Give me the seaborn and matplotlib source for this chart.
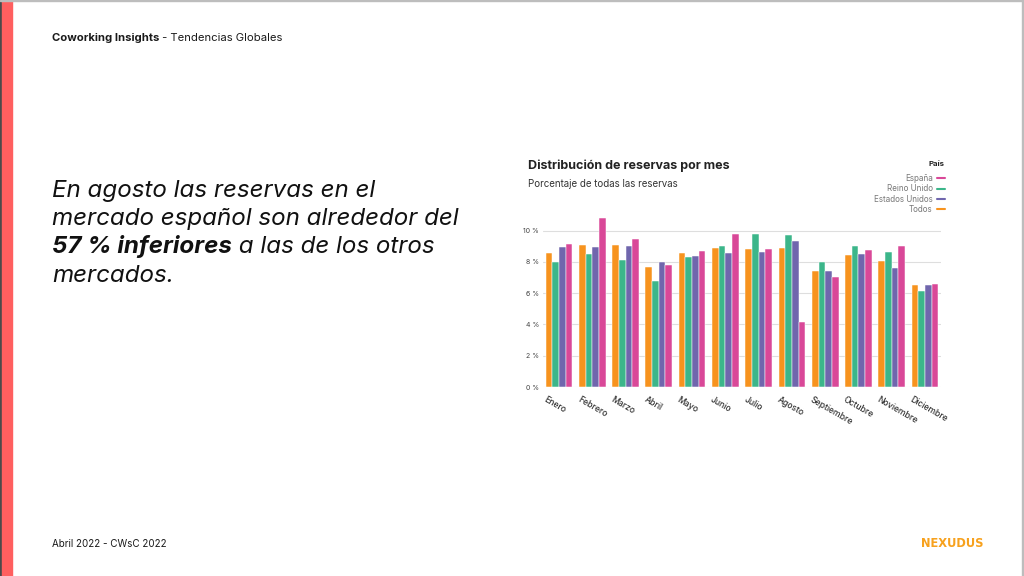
import matplotlib
matplotlib.use("Agg")
import matplotlib.pyplot as plt
import matplotlib.transforms as mtransforms
from matplotlib.lines import Line2D
from matplotlib.patches import Rectangle
import seaborn as sns
import pandas as pd

# ---------------- data ----------------
meses = ["Enero", "Febrero", "Marzo", "Abril", "Mayo", "Junio", "Julio",
         "Agosto", "Septiembre", "Octubre", "Noviembre", "Diciembre"]
series_names = ["Todos", "Reino Unido", "Estados Unidos", "España"]
todos = [8.55, 9.10, 9.10, 7.70, 8.55, 8.91, 8.81, 8.89, 7.43, 8.45, 8.06, 6.51]
reino_unido = [8.02, 8.53, 8.10, 6.79, 8.30, 9.02, 9.81, 9.74, 8.00, 9.04, 8.66, 6.11]
estados_unidos = [8.96, 8.98, 9.04, 8.00, 8.40, 8.57, 8.62, 9.34, 7.43, 8.51, 7.62, 6.55]
espana = [9.13, 10.83, 9.49, 7.81, 8.72, 9.79, 8.81, 4.17, 7.02, 8.74, 9.02, 6.60]
y_ticks = [0, 2, 4, 6, 8, 10]
legend_order = ["España", "Reino Unido", "Estados Unidos", "Todos"]

colors = {"Todos": "#f7931e", "Reino Unido": "#3cb68a",
          "Estados Unidos": "#7066ad", "España": "#d94898"}

values = {"Todos": todos, "Reino Unido": reino_unido,
          "Estados Unidos": estados_unidos, "España": espana}
rows = []
for s in series_names:
    for m, v in zip(meses, values[s]):
        rows.append({"mes": m, "serie": s, "valor": v})
df = pd.DataFrame(rows)

# ---------------- figure ----------------
sns.set_theme(style="white")
plt.rcParams["font.family"] = ["Inter", "DejaVu Sans"]

fig = plt.figure(figsize=(10.24, 5.76), dpi=100)
W, H = 1024, 576

def fx(px):
    return px / W

def fy(py):
    return 1 - py / H

# slide frame
fig.patches.append(Rectangle((0, 0), fx(2), 1, transform=fig.transFigure,
                             color="#4a4a4a", zorder=5))
fig.patches.append(Rectangle((fx(2), 0), fx(10), 1, transform=fig.transFigure,
                             color="#ff5f5f", zorder=5))
fig.patches.append(Rectangle((0, fy(1)), 1, 1 / H, transform=fig.transFigure,
                             color="#bdbdbd", zorder=5))
fig.patches.append(Rectangle((fx(1022), 0), fx(2), 1, transform=fig.transFigure,
                             color="#bdbdbd", zorder=5))

# chart axes
ax = fig.add_axes([fx(543), fy(387), fx(941 - 543), fy(215) - fy(387)])
sns.barplot(data=df, x="mes", y="valor", hue="serie", hue_order=series_names,
            palette=colors, order=meses, width=0.8, ax=ax, saturation=1,
            edgecolor="white", linewidth=0.35, legend=False)
ax.set_xlim(-0.48, 11.48)
ax.set_ylim(0, 11)
ax.set_yticks(y_ticks)
ax.set_yticklabels([f"{v} %" for v in y_ticks], fontsize=5, color="#444444")
ax.yaxis.grid(True, color="#dedede", linewidth=0.8)
ax.set_axisbelow(True)
for sp in ax.spines.values():
    sp.set_visible(False)
ax.tick_params(axis="y", length=0, pad=3)
ax.tick_params(axis="x", length=0, pad=6)
ax.set_xlabel("")
ax.set_ylabel("")
ax.set_xticks(range(len(meses)))
ax.set_xticklabels(meses, rotation=-30, ha="left", va="top",
                   rotation_mode="anchor", fontsize=6.2, color="#333333",
                   fontweight="medium")
offset = mtransforms.ScaledTranslation(-12 / 100, 0, fig.dpi_scale_trans)
for lab in ax.get_xticklabels():
    lab.set_transform(lab.get_transform() + offset)

# chart titles
fig.text(fx(528), fy(169), "Distribución de reservas por mes", fontsize=9.0,
         fontweight="bold", color="#222222", va="baseline", ha="left")
fig.text(fx(528), fy(187), "Porcentaje de todas las reservas", fontsize=7,
         color="#333333", va="baseline", ha="left")

# legend
handles = [Line2D([0], [0], color=colors[n], lw=1.5) for n in legend_order]
leg = fig.legend(handles, legend_order, loc="upper right",
                 bbox_to_anchor=(fx(952), fy(154)), frameon=False,
                 markerfirst=False, fontsize=5.8, title="País",
                 title_fontsize=5.6, handlelength=0.9, handletextpad=0.6,
                 labelspacing=0.15, labelcolor="#777777")
leg.get_title().set_fontweight("bold")
leg.get_title().set_color("#222222")
leg._legend_box.align = "right"
leg._legend_box.sep = 5

# header / footer
renderer = fig.canvas.get_renderer()
t1 = fig.text(fx(52), fy(41), "Coworking Insights", fontsize=8.1,
              fontweight="bold", color="#1a1a1a", va="baseline")
bb = t1.get_window_extent(renderer)
fig.text(bb.x1 / W, fy(41), " - Tendencias Globales", fontsize=8.1,
         color="#1a1a1a", va="baseline")
fig.text(fx(52), fy(547), "Abril 2022 - CWsC 2022", fontsize=7.1,
         color="#1a1a1a", va="baseline")
fig.text(fx(984), fy(547), "NEXUDUS", fontsize=8.3, fontweight="bold",
         color="#f7a11d", va="baseline", ha="right",
         family=["DejaVu Sans"])

# statement
fs = 17.4
fig.text(fx(52), fy(197), "En agosto las reservas en el", fontsize=fs,
         style="italic", color="#111111", va="baseline")
fig.text(fx(52), fy(225), "mercado español son alrededor del", fontsize=fs,
         style="italic", color="#111111", va="baseline")
b1 = fig.text(fx(52), fy(253), "57 % inferiores", fontsize=fs, style="italic",
              fontweight="bold", color="#111111", va="baseline")
bb = b1.get_window_extent(renderer)
fig.text(bb.x1 / W, fy(253), " a las de los otros", fontsize=fs,
         style="italic", color="#111111", va="baseline")
fig.text(fx(52), fy(282), "mercados.", fontsize=fs, style="italic",
         color="#111111", va="baseline")

fig.savefig("out.png", dpi=100, facecolor="white")
